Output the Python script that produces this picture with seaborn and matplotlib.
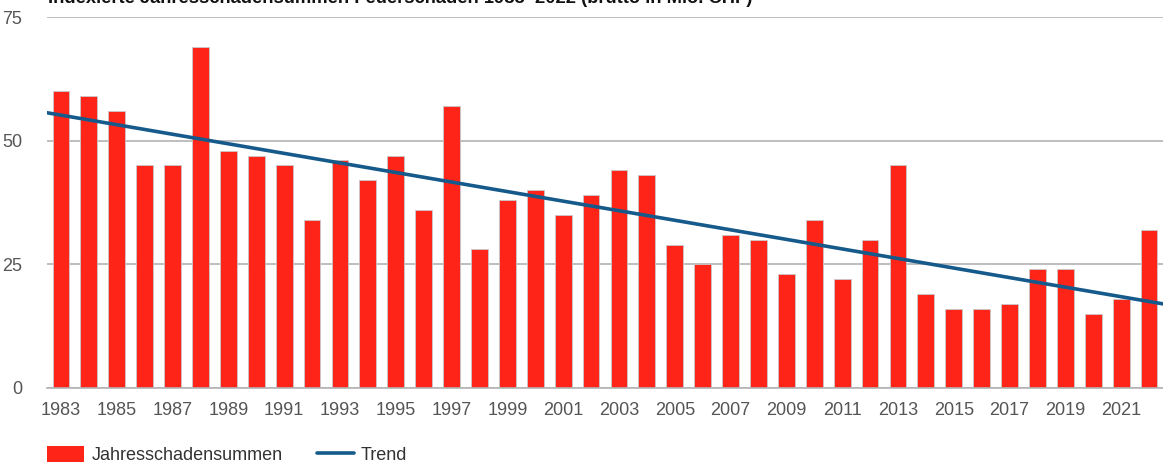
import matplotlib
matplotlib.use("Agg")
import matplotlib.pyplot as plt
import numpy as np
import pandas as pd
import seaborn as sns
from matplotlib.patches import Patch
from matplotlib.lines import Line2D

years = list(range(1983, 2023))
schaden = [60, 59, 56, 45, 45, 69, 48, 47, 45, 34,
           46, 42, 47, 36, 57, 28, 38, 40, 35, 39,
           44, 43, 29, 25, 31, 30, 23, 34, 22, 30,
           45, 19, 16, 16, 17, 24, 24, 15, 18, 32]
tick_years = years[:-1:2]
title = "Indexierte Jahresschadensummen Feuerschaden 1983–2022 (brutto in Mio. CHF)"

df = pd.DataFrame({"Jahr": [str(y) for y in years], "Schaden": schaden})

sns.set_theme(style="white")
plt.rcParams["font.family"] = ["Liberation Sans", "DejaVu Sans"]

red = "#ff2418"
blue = "#155a8a"
grey = "#555555"

fig = plt.figure(figsize=(11.63, 4.67), dpi=100)
ax = fig.add_axes([47 / 1163, 1 - 388 / 467, 1 - 47 / 1163, (388 - 17) / 467])

sns.barplot(data=df, x="Jahr", y="Schaden", color=red, saturation=1,
            width=0.6, edgecolor="#c8c8c8", linewidth=0.6, ax=ax, zorder=2)

# linearer Trend
xs = np.arange(len(years))
k, d = np.polyfit(xs, schaden, 1)
xt = np.array([-0.5, len(years) - 0.5])
sns.lineplot(x=xt, y=k * xt + d, color=blue, linewidth=2.6, ax=ax, zorder=3)

ax.set_xlim(-0.5, len(years) - 0.5)
ax.set_ylim(0, 75)
ax.set_yticks([0, 25, 50, 75])
ax.yaxis.grid(True, color="#b3b3b3", linewidth=1.2, zorder=0)
ax.set_axisbelow(True)
pos = [years.index(y) for y in tick_years]
ax.set_xticks(pos)
ax.set_xticklabels([str(y) for y in tick_years])
ax.tick_params(axis="both", length=0, labelsize=13, colors=grey)
ax.tick_params(axis="x", pad=10)
ax.tick_params(axis="y", pad=18)
ax.set_xlabel("")
ax.set_ylabel("")
for s in ["top", "right", "left"]:
    ax.spines[s].set_visible(False)
ax.spines["bottom"].set_color("#b3b3b3")
ax.spines["bottom"].set_linewidth(1.2)

fig.text(48 / 1163, 1 - 3 / 467, title, fontsize=13.2, fontweight="bold",
         color="#111111", va="baseline", ha="left")

handles = [Patch(facecolor=red, edgecolor="none"),
           Line2D([0], [0], color=blue, linewidth=2.6)]
fig.legend(handles, ["Jahresschadensummen", "Trend"], loc="center left",
           bbox_to_anchor=(47 / 1163, 1 - 455 / 467), ncol=2, frameon=False,
           fontsize=13, labelcolor="#333333", handlelength=2.05,
           handleheight=1.0, columnspacing=1.9, handletextpad=0.4,
           borderpad=0, borderaxespad=0)

fig.savefig("out.png", dpi=100)
